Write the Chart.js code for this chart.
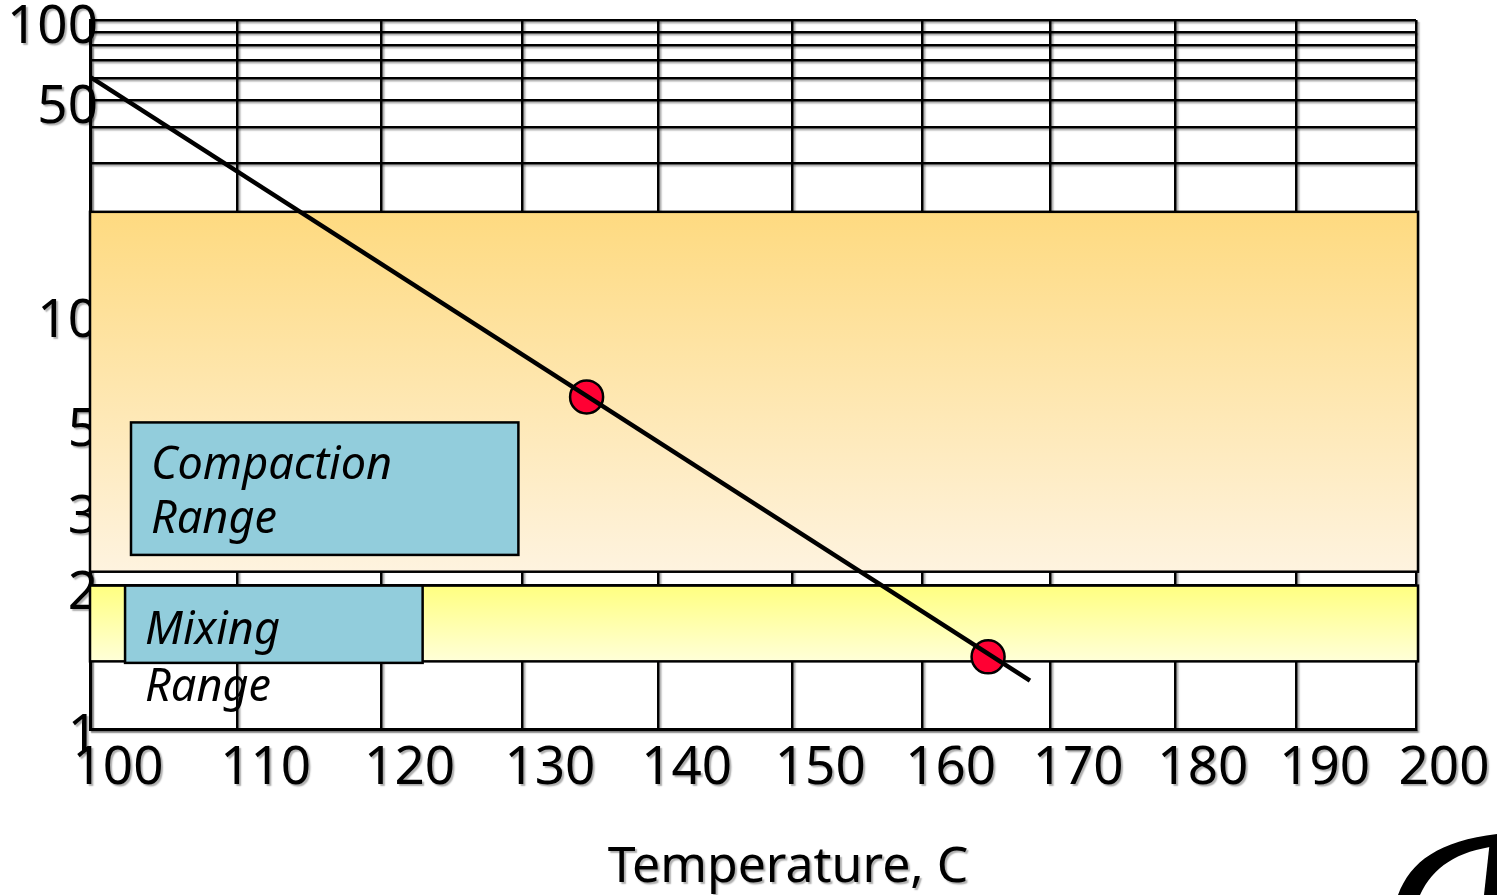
<!DOCTYPE html>
<html>
<head>
<meta charset="utf-8">
<title>Viscosity–Temperature Chart</title>
<script src="https://cdn.jsdelivr.net/npm/chart.js@4.4.1/dist/chart.umd.min.js"></script>
<style>
  html, body { margin: 0; padding: 0; background: #ffffff; }
  #chart { display: block; }
</style>
</head>
<body>
<canvas id="chart" width="1497" height="895"></canvas>
<script>
const KELVIN = 273.15;

// Axis ticks
const temperatureTicks = [100, 110, 120, 130, 140, 150, 160, 170, 180, 190, 200];
const viscosityTicks = [1, 2, 3, 5, 10, 20, 30, 40, 50, 60, 70, 80, 90, 100];
const viscosityTickLabels = [1, 2, 3, 5, 10, 50, 100];

// Binder temperature–viscosity line (°C, viscosity)
const lineTemperatures = [100, 168.4];
const lineViscosities = [60.8, 1.25];

// Marked points on the line
const pointTemperatures = [134.7, 165.1];
const pointViscosities = [5.85, 1.40];

// Viscosity ranges [low, high]
const compactionRange = [2.15, 20.7];
const mixingRange = [1.37, 2.0];

// Range captions, anchored in temperature / viscosity space
const rangeCaptions = [
  { lines: ['Compaction', 'Range'], tempSpan: [102.75, 129.75], viscSpan: [2.35, 5.0], baselines: [57, 111] },
  { lines: ['Mixing', 'Range'],     tempSpan: [102.35, 122.9],  viscSpan: [1.36, 2.0], baselines: [58, 115] }
];

const FONT = "'Noto Sans', 'Open Sans', sans-serif";

// Double-logarithmic viscosity axis: position ~ log10(log10(100 * v))
const dlog = v => Math.log10(Math.log10(100 * v));
const dlogInv = f => Math.pow(10, Math.pow(10, f)) / 100;

class DoubleLogScale extends Chart.LinearScale {
  determineDataLimits() {
    this.min = dlog(this.options.min);
    this.max = dlog(this.options.max);
  }
  buildTicks() {
    return viscosityTicks.map(v => ({ value: v }));
  }
  getPixelForValue(value) {
    if (value === null || value === undefined || isNaN(value)) return NaN;
    return this.getPixelForDecimal((dlog(value) - this._startValue) / this._valueRange);
  }
  getValueForPixel(pixel) {
    return dlogInv(this._startValue + this.getDecimalForPixel(pixel) * this._valueRange);
  }
  // tick labels may run past the axis line into the plot
  _computeLabelArea() {
    return undefined;
  }
}
DoubleLogScale.id = 'doubleLog';
DoubleLogScale.defaults = {};
Chart.register(DoubleLogScale);

function setShadow(ctx) {
  ctx.shadowColor = 'rgba(0,0,0,0.32)';
  ctx.shadowOffsetX = 2;
  ctx.shadowOffsetY = 2;
  ctx.shadowBlur = 1.5;
}

function drawBand(chart, range, topColor, bottomColor) {
  const { ctx, scales: { x, y } } = chart;
  const left = x.getPixelForValue(x.min);
  const right = x.getPixelForValue(x.max) + 2;
  const top = y.getPixelForValue(range[1]);
  const bottom = y.getPixelForValue(range[0]);
  const grad = ctx.createLinearGradient(0, top, 0, bottom);
  grad.addColorStop(0, topColor);
  grad.addColorStop(1, bottomColor);
  ctx.save();
  ctx.fillStyle = grad;
  ctx.fillRect(left, top, right - left, bottom - top);
  ctx.lineWidth = 2.5;
  ctx.strokeStyle = '#000000';
  ctx.strokeRect(left, top, right - left, bottom - top);
  ctx.restore();
}

function drawCaptionBox(chart, cap) {
  const { ctx, scales: { x, y } } = chart;
  const left = x.getPixelForValue(cap.tempSpan[0] + KELVIN);
  const right = x.getPixelForValue(cap.tempSpan[1] + KELVIN);
  const top = y.getPixelForValue(cap.viscSpan[1]);
  const bottom = y.getPixelForValue(cap.viscSpan[0]);
  ctx.save();
  ctx.fillStyle = '#92CDDC';
  ctx.fillRect(left, top, right - left, bottom - top);
  ctx.lineWidth = 2.5;
  ctx.strokeStyle = '#000000';
  ctx.strokeRect(left, top, right - left, bottom - top);
  ctx.fillStyle = '#000000';
  ctx.font = 'italic 45px ' + FONT;
  ctx.textAlign = 'left';
  ctx.textBaseline = 'alphabetic';
  cap.lines.forEach((line, i) => ctx.fillText(line, left + 20, top + cap.baselines[i]));
  ctx.restore();
}

const sketchPlugin = {
  id: 'sketch',
  beforeDraw(chart) {
    chart.ctx.save();
    setShadow(chart.ctx);
  },
  beforeDatasetsDraw(chart) {
    chart.ctx.restore();
    drawBand(chart, compactionRange, '#FEDA80', '#FEF3DF');
    drawBand(chart, mixingRange, '#FFFF80', '#FFFFD8');
    rangeCaptions.forEach(cap => drawCaptionBox(chart, cap));
  },
  afterDraw(chart) {
    const { ctx, chartArea } = chart;
    // axis caption
    ctx.save();
    setShadow(ctx);
    ctx.fillStyle = '#000000';
    ctx.font = '50px ' + FONT;
    ctx.textAlign = 'center';
    ctx.textBaseline = 'alphabetic';
    ctx.fillText('Temperature, C', (chartArea.left + chartArea.right) / 2 + 35, chartArea.bottom + 153);
    ctx.restore();

    // corner emblem
    const W = chart.width, H = chart.height;
    ctx.save();
    ctx.fillStyle = '#000000';
    ctx.beginPath();
    ctx.moveTo(W - 99, H);
    ctx.bezierCurveTo(W - 86, H - 34, W - 58, H - 54, W, H - 61);
    ctx.lineTo(W, H - 49);
    ctx.bezierCurveTo(W - 40, H - 44, W - 64, H - 28, W - 77, H);
    ctx.closePath();
    ctx.fill();
    ctx.beginPath();
    ctx.moveTo(W - 7, H - 55);
    ctx.lineTo(W, H - 58);
    ctx.lineTo(W, H);
    ctx.lineTo(W - 13, H);
    ctx.closePath();
    ctx.fill();
    ctx.restore();
  }
};

const ctx = document.getElementById('chart').getContext('2d');
new Chart(ctx, {
  type: 'scatter',
  data: {
    datasets: [
      {
        label: 'Binder',
        data: lineTemperatures.map((t, i) => ({ x: t + KELVIN, y: lineViscosities[i] })),
        showLine: true,
        borderColor: '#000000',
        borderWidth: 4.5,
        pointRadius: 0,
        fill: false,
        tension: 0
      },
      {
        label: 'Points',
        data: pointTemperatures.map((t, i) => ({ x: t + KELVIN, y: pointViscosities[i] })),
        showLine: false,
        pointRadius: 16.5,
        pointBackgroundColor: '#FF0033',
        pointBorderColor: '#000000',
        pointBorderWidth: 2.5
      }
    ]
  },
  options: {
    responsive: false,
    animation: false,
    events: [],
    layout: { padding: { top: 20, right: 81, bottom: 0, left: 0 } },
    plugins: {
      legend: { display: false },
      tooltip: { enabled: false },
      title: { display: false }
    },
    scales: {
      x: {
        type: 'logarithmic',
        min: 100 + KELVIN,
        max: 200 + KELVIN,
        afterBuildTicks: scale => {
          scale.ticks = temperatureTicks.map(t => ({ value: t + KELVIN }));
        },
        afterFit: scale => {
          scale.height = 166;
          scale.paddingLeft = 0;
          scale.paddingRight = 0;
        },
        grid: { color: '#000000', lineWidth: 2.5, drawTicks: false },
        border: { color: '#000000', width: 3 },
        ticks: {
          autoSkip: false,
          maxRotation: 0,
          padding: 8,
          labelOffset: 28,
          color: '#000000',
          font: { family: FONT, size: 53, lineHeight: 1.2 },
          callback: value => String(Math.round(value - KELVIN))
        }
      },
      y: {
        type: 'doubleLog',
        min: 1,
        max: 100,
        afterFit: scale => {
          scale.width = 90;
          scale.paddingTop = 0;
          scale.paddingBottom = 0;
        },
        grid: { color: '#000000', lineWidth: 2.5, drawTicks: false },
        border: { color: '#000000', width: 3 },
        ticks: {
          autoSkip: false,
          padding: -8,
          labelOffset: 8,
          color: '#000000',
          font: { family: FONT, size: 53, lineHeight: 1.2 },
          callback: value => (viscosityTickLabels.includes(value) ? String(value) : '')
        }
      }
    }
  },
  plugins: [sketchPlugin]
});
</script>
</body>
</html>
